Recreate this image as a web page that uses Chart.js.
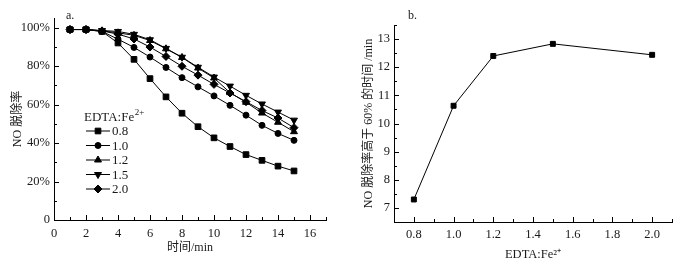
<!DOCTYPE html>
<html><head><meta charset="utf-8">
<script src="https://cdn.jsdelivr.net/npm/chart.js@4.4.1/dist/chart.umd.min.js"></script>
<style>
html,body{margin:0;padding:0;background:#fff;}
#wrap{position:relative;width:685px;height:266px;overflow:hidden;}
#c1box{position:absolute;left:0;top:0;width:340px;height:266px;}
#c2box{position:absolute;left:340px;top:0;width:345px;height:266px;}
</style></head><body>
<div id="wrap"><div id="c1box"><canvas id="c1" width="340" height="266"></canvas></div><div id="c2box"><canvas id="c2" width="345" height="266"></canvas></div></div>
<script>
// ---- data (chart a) ----
const timeMin = [1,2,3,4,5,6,7,8,9,10,11,12,13,14,15];
const ratio08 = [99,99,98,92,83.5,73.5,64,55.5,48.5,42.7,38.2,34,31,28,25.5];
const ratio10 = [99,99,98,94,89.7,84.7,79.3,74,69.2,64.5,59.6,54.5,49.2,45,41.4];
const ratio12 = [99,99,98.3,97.3,96,93.3,89,84.5,79,73.8,66.2,61.2,55.6,50.8,45.9];
const ratio15 = [99,99,98.5,98,96.5,93.7,89.2,84.6,79.4,74.3,69.6,64.8,60.3,56.1,51.9];
const ratio20 = [99,99,98.3,96.6,94.1,89.9,85,79.9,75.3,70.5,66,61.5,56.9,53,48];
const seriesLabels = ['0.8','1.0','1.2','1.5','2.0'];
const xTicksA = [0,2,4,6,8,10,12,14,16];
const yTicksA = [0,20,40,60,80,100];
// ---- data (chart b) ----
const ratioValues = [0.8,1.0,1.2,1.5,2.0];
const time60 = [7.3,10.63,12.4,12.83,12.44];
const xTicksB = [0.8,1.0,1.2,1.4,1.6,1.8,2.0];
const yTicksB = [7,8,9,10,11,12,13];

const SERIF = "'Liberation Serif','Times New Roman',serif";
const CJK = "'Liberation Serif','Noto Sans CJK SC',serif";
const TXT = '#1a1a1a';

const insideTicks = {
  id: 'insideTicks',
  afterDraw(chart, args, opts) {
    const ctx = chart.ctx, ca = chart.chartArea;
    ctx.save();
    ctx.strokeStyle = '#000'; ctx.lineWidth = 1;
    const xs = chart.scales.x, ys = chart.scales.y;
    const xo = opts.x, yo = opts.y;
    for (let i = xo.from; i <= xo.to; i++) {
      const v = i / xo.div;
      const px = Math.round(xs.getPixelForValue(v)) + 0.5;
      const len = (i % xo.major === 0) ? 5 : 3;
      ctx.beginPath(); ctx.moveTo(px, ca.bottom); ctx.lineTo(px, ca.bottom - len); ctx.stroke();
    }
    for (let i = yo.from; i <= yo.to; i++) {
      const v = i / yo.div;
      const py = Math.round(ys.getPixelForValue(v)) + 0.5;
      const len = (i % yo.major === 0) ? 5 : 3;
      ctx.beginPath(); ctx.moveTo(ca.left, py); ctx.lineTo(ca.left + len, py); ctx.stroke();
    }
    ctx.fillStyle = TXT; ctx.font = '12px ' + SERIF; ctx.textBaseline = 'middle'; ctx.textAlign = 'left';
    ctx.fillText(opts.tag, ca.left + opts.tagDx, 16);
    ctx.restore();
  }
};

const insideLegend = {
  id: 'insideLegend',
  afterDraw(chart, args, opts) {
    if (!opts.show) return;
    const ctx = chart.ctx, ca = chart.chartArea;
    ctx.save();
    ctx.fillStyle = TXT; ctx.textBaseline = 'alphabetic'; ctx.textAlign = 'left';
    const tx = ca.left + 30, ty = 121;
    ctx.font = '13px ' + SERIF;
    ctx.fillText('EDTA:Fe', tx, ty);
    const w = ctx.measureText('EDTA:Fe').width;
    ctx.font = '9px ' + SERIF;
    ctx.fillText('2+', tx + w + 0.5, ty - 6);
    chart.data.datasets.forEach((ds, i) => {
      const y = 131 + i * 14.5;
      ctx.strokeStyle = '#000'; ctx.fillStyle = '#000'; ctx.lineWidth = 1;
      ctx.beginPath(); ctx.moveTo(ca.left + 32, y); ctx.lineTo(ca.left + 56, y); ctx.stroke();
      Chart.helpers.drawPoint(ctx, {pointStyle: ds.pointStyle, rotation: ds.pointRotation || 0, radius: ds.pointRadius, borderWidth: 1}, ca.left + 44, y);
      ctx.fillStyle = TXT; ctx.font = '13px ' + SERIF; ctx.textBaseline = 'middle';
      ctx.fillText(ds.label, ca.left + 58, y + 1);
    });
    ctx.restore();
  }
};

function mkDs(label, vals, style, r, rot) {
  return {
    label, data: timeMin.map((t, i) => ({x: t, y: vals[i]})),
    borderColor: '#000', backgroundColor: '#000', borderWidth: 1,
    pointStyle: style, pointRadius: r, pointRotation: rot || 0,
    pointBorderWidth: 1, pointBackgroundColor: '#000', pointBorderColor: '#000',
    tension: 0
  };
}

const tickFont = {family: SERIF, size: 12.5};
const gridOff = {display: false, drawTicks: false, tickLength: 0};

new Chart(document.getElementById('c1'), {
  type: 'line',
  data: {datasets: [
    mkDs(seriesLabels[0], ratio08, 'rect', 4),
    mkDs(seriesLabels[1], ratio10, 'circle', 3),
    mkDs(seriesLabels[2], ratio12, 'triangle', 4),
    mkDs(seriesLabels[3], ratio15, 'triangle', 4, 180),
    mkDs(seriesLabels[4], ratio20, 'rectRot', 4)
  ]},
  options: {
    responsive: false, devicePixelRatio: 1, animation: false,
    layout: {padding: {top: 18, right: 14, left: 0, bottom: 0}},
    plugins: {legend: {display: false}, tooltip: {enabled: false},
      insideTicks: {x: {from: 0, to: 17, div: 1, major: 2}, y: {from: 0, to: 10, div: 0.1, major: 2}, tag: 'a.', tagDx: 12},
      insideLegend: {show: true}},
    scales: {
      x: {type: 'linear', min: 0, max: 17,
        afterBuildTicks: s => { s.ticks = xTicksA.map(v => ({value: v})); },
        afterFit: s => { s.height = 46; },
        grid: gridOff, border: {display: true, color: '#000', width: 1},
        ticks: {font: tickFont, color: TXT, padding: 6, maxRotation: 0, callback: v => String(v)},
        title: {display: true, text: '时间/min', font: {family: CJK, size: 12}, color: TXT, padding: {top: 0, bottom: 11}}},
      y: {type: 'linear', min: 0, max: 105,
        afterBuildTicks: s => { s.ticks = yTicksA.map(v => ({value: v})); },
        afterFit: s => { s.width = 54; },
        grid: gridOff, border: {display: true, color: '#000', width: 1},
        ticks: {font: tickFont, color: TXT, padding: 4, callback: v => v === 0 ? '0' : v + '%'},
        title: {display: true, text: 'NO 脱除率', font: {family: CJK, size: 12}, color: TXT, padding: {top: 11, bottom: 0}}}
    }
  },
  plugins: [insideTicks, insideLegend]
});

new Chart(document.getElementById('c2'), {
  type: 'line',
  data: {datasets: [{
    label: 'b', data: ratioValues.map((r, i) => ({x: r, y: time60[i]})),
    borderColor: '#000', backgroundColor: '#000', borderWidth: 1,
    pointStyle: 'rect', pointRadius: 3.5, pointBackgroundColor: '#000', pointBorderColor: '#000', tension: 0
  }]},
  options: {
    responsive: false, devicePixelRatio: 1, animation: false,
    layout: {padding: {top: 25, right: 13, left: 0, bottom: 0}},
    plugins: {legend: {display: false}, tooltip: {enabled: false},
      insideTicks: {x: {from: 7, to: 21, div: 10, major: 2}, y: {from: 13, to: 27, div: 2, major: 2}, tag: 'b.', tagDx: 14},
      insideLegend: {show: false}},
    scales: {
      x: {type: 'linear', min: 0.7, max: 2.1,
        afterBuildTicks: s => { s.ticks = xTicksB.map(v => ({value: v})); },
        afterFit: s => { s.height = 44; },
        grid: gridOff, border: {display: true, color: '#000', width: 1},
        ticks: {font: tickFont, color: TXT, padding: 5, maxRotation: 0, callback: v => Number(v).toFixed(1)},
        title: {display: true, text: 'EDTA:Fe²⁺', font: {family: SERIF, size: 12.5}, color: TXT, padding: {top: 0, bottom: 4}}},
      y: {type: 'linear', min: 6.5, max: 13.5,
        afterBuildTicks: s => { s.ticks = yTicksB.map(v => ({value: v})); },
        afterFit: s => { s.width = 54; },
        grid: gridOff, border: {display: true, color: '#000', width: 1},
        ticks: {font: tickFont, color: TXT, padding: 4, callback: v => String(v)},
        title: {display: true, text: 'NO 脱除率高于 60% 的时间 /min', font: {family: CJK, size: 12}, color: TXT, padding: {top: 22, bottom: 0}}}
    }
  },
  plugins: [insideTicks]
});
</script>
</body></html>
